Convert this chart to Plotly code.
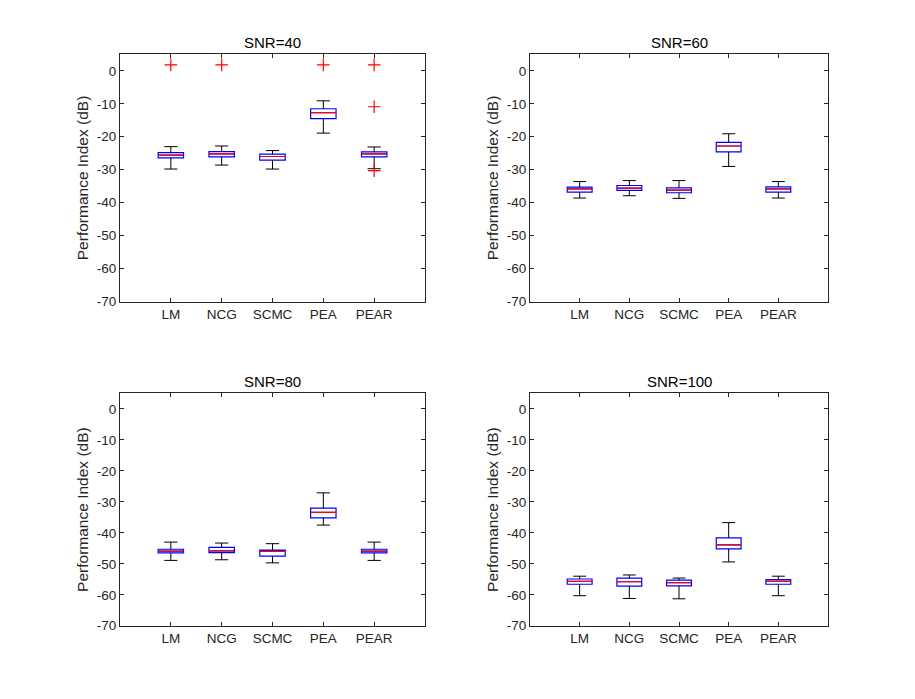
import plotly.graph_objects as go

# methods on the x axis
methods = ["LM", "NCG", "SCMC", "PEA", "PEAR"]
panel_titles = ["SNR=40", "SNR=60", "SNR=80", "SNR=100"]
y_ticks = [-70, -60, -50, -40, -30, -20, -10, 0]

# box stats for each SNR, one value per method (dB)
low_40 = [-29.8, -28.6, -29.8, -18.9, -29.7]
q1_40 = [-26.4, -26.1, -27.1, -14.5, -26.1]
med_40 = [-25.6, -25.2, -26.0, -12.7, -25.2]
q3_40 = [-24.8, -24.5, -25.3, -11.5, -24.6]
high_40 = [-23.0, -22.8, -24.2, -9.1, -23.1]
out_x_40 = ["LM", "NCG", "PEA", "PEAR", "PEAR", "PEAR"]
out_y_40 = [1.8, 1.8, 1.8, 1.8, -10.9, -30.3]

low_60 = [-38.6, -37.9, -38.7, -29.0, -38.6]
q1_60 = [-36.8, -36.3, -37.0, -24.6, -36.8]
med_60 = [-35.8, -35.6, -36.2, -22.8, -35.8]
q3_60 = [-35.3, -34.8, -35.5, -21.7, -35.2]
high_60 = [-33.6, -33.3, -33.3, -19.1, -33.6]

low_80 = [-48.9, -48.7, -49.7, -37.5, -48.9]
q1_80 = [-46.5, -46.4, -47.5, -35.2, -46.5]
med_80 = [-45.9, -45.8, -46.0, -33.4, -45.9]
q3_80 = [-45.3, -44.7, -45.6, -32.0, -45.3]
high_80 = [-43.0, -43.3, -43.5, -27.1, -43.0]

low_100 = [-60.3, -61.2, -61.3, -49.4, -60.3]
q1_100 = [-56.6, -57.2, -57.1, -45.2, -56.6]
med_100 = [-55.7, -55.8, -56.1, -43.9, -55.7]
q3_100 = [-54.9, -54.6, -55.3, -41.6, -55.1]
high_100 = [-54.0, -53.6, -54.6, -36.7, -54.0]

panels = [
    (low_40, q1_40, med_40, q3_40, high_40, out_x_40, out_y_40),
    (low_60, q1_60, med_60, q3_60, high_60, [], []),
    (low_80, q1_80, med_80, q3_80, high_80, [], []),
    (low_100, q1_100, med_100, q3_100, high_100, [], []),
]

W, H = 915, 699
# axes boxes in pixels (left, right, top, bottom), like matlab subplot(2,2,k)
boxes = [(120, 425, 55, 305), (530, 828, 55, 305),
         (120, 425, 398, 633), (530, 828, 398, 633)]

pos = list(range(1, len(methods) + 1))
half_box = 0.25
half_cap = 0.13
axcol = "#262626"

fig = go.Figure()

for k, (low, q1, med, q3, high, ox, oy) in enumerate(panels):
    n = "" if k == 0 else str(k + 1)
    xa, ya = "x" + n, "y" + n

    fig.add_trace(go.Box(x=pos, q1=q1, median=med, q3=q3,
                         lowerfence=q1, upperfence=q3, width=2 * half_box,
                         line=dict(color="blue", width=1.2), fillcolor="white",
                         boxpoints=False, hoverinfo="skip",
                         xaxis=xa, yaxis=ya, showlegend=False))

    # whiskers + caps in black
    wx, wy = [], []
    for p, lo, a, b, hi in zip(pos, low, q1, q3, high):
        wx += [p, p, None, p, p, None,
               p - half_cap, p + half_cap, None, p - half_cap, p + half_cap, None]
        wy += [b, hi, None, a, lo, None, hi, hi, None, lo, lo, None]
    fig.add_trace(go.Scatter(x=wx, y=wy, mode="lines",
                             line=dict(color="black", width=1),
                             xaxis=xa, yaxis=ya, showlegend=False,
                             hoverinfo="skip"))

    # red median
    mx, my = [], []
    for p, m in zip(pos, med):
        mx += [p - half_box, p + half_box, None]
        my += [m, m, None]
    fig.add_trace(go.Scatter(x=mx, y=my, mode="lines",
                             line=dict(color="red", width=1.2),
                             xaxis=xa, yaxis=ya, showlegend=False,
                             hoverinfo="skip"))

    if ox:
        fig.add_trace(go.Scatter(x=[methods.index(m) + 1 for m in ox], y=oy,
                                 mode="markers",
                                 marker=dict(symbol="cross-thin", size=9,
                                             line=dict(color="red", width=1.2)),
                                 xaxis=xa, yaxis=ya, showlegend=False))

    left, right, top, bottom = boxes[k]
    xdom = [left / W, right / W]
    ydom = [1 - bottom / H, 1 - top / H]
    fig.update_layout({
        "xaxis" + n: dict(domain=xdom, anchor=ya, range=[0, 6],
                          tickvals=pos, ticktext=methods,
                          ticks="inside", ticklen=4, tickcolor=axcol,
                          showline=True, linecolor=axcol, linewidth=1,
                          mirror="ticks", showgrid=False, zeroline=False,
                          tickfont=dict(size=13.5, color="#262626")),
        "yaxis" + n: dict(domain=ydom, anchor=xa, range=[-70, 5],
                          tickvals=y_ticks, ticktext=[str(v) for v in y_ticks],
                          ticks="inside", ticklen=4, tickcolor=axcol,
                          showline=True, linecolor=axcol, linewidth=1,
                          mirror="ticks", showgrid=False, zeroline=False,
                          tickfont=dict(size=13.5, color="#262626"),
                          title=dict(text="Performance Index (dB)",
                                     font=dict(size=15.5, color="#262626"),
                                     standoff=4)),
    })
    fig.add_annotation(text=panel_titles[k], xref="paper", yref="paper",
                       x=(xdom[0] + xdom[1]) / 2, y=ydom[1],
                       xanchor="center", yanchor="bottom", yshift=1,
                       showarrow=False, font=dict(size=15, color="black"))

fig.update_layout(width=W, height=H, margin=dict(l=0, r=0, t=0, b=0),
                  paper_bgcolor="white", plot_bgcolor="white",
                  font=dict(family="Liberation Sans, Arial, sans-serif"),
                  showlegend=False)

page_fix = ("document.body.style.margin='0px';"
            "document.body.style.overflow='hidden';"
            "document.documentElement.style.overflow='hidden';")
fig.write_html("out.html", config={"displayModeBar": False},
               post_script=page_fix)
